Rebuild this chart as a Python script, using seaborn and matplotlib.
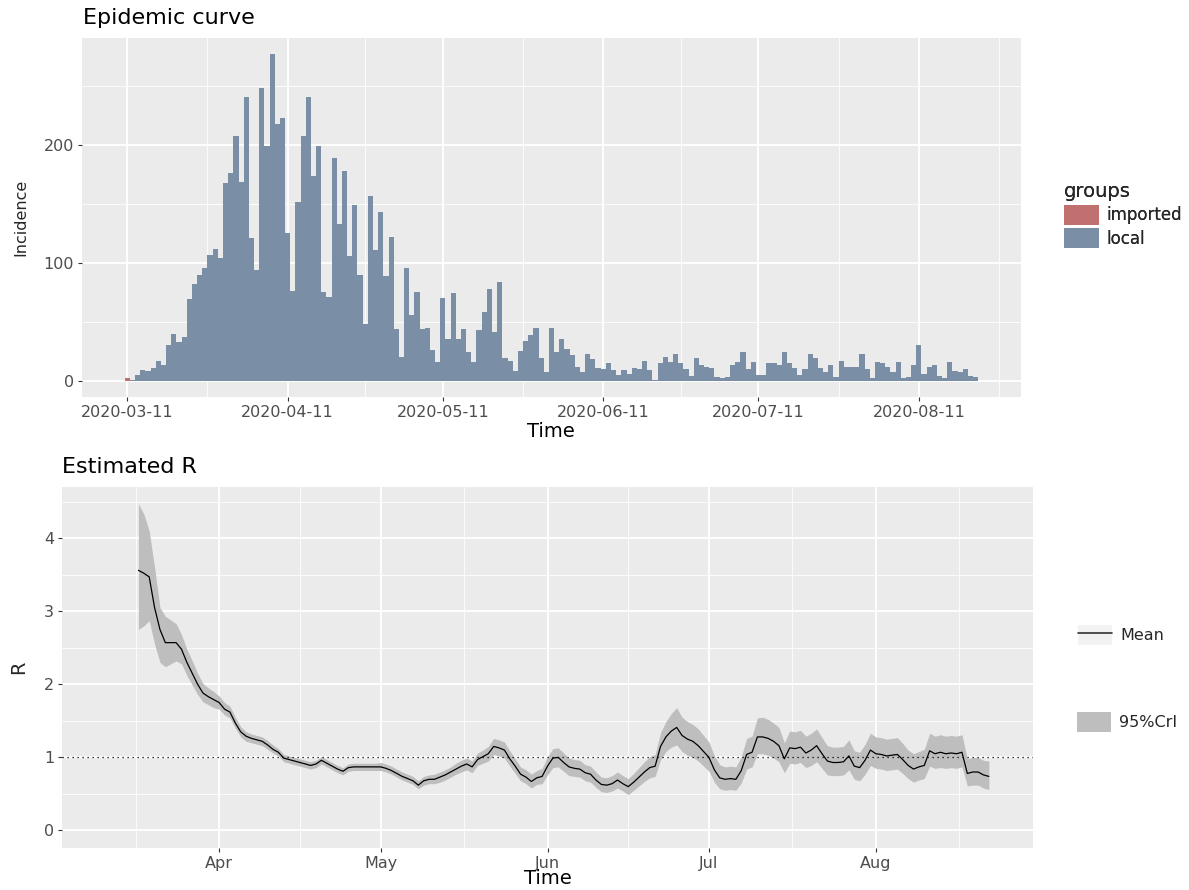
import matplotlib
matplotlib.use("Agg")
import matplotlib.pyplot as plt
import matplotlib.dates as mdates
from matplotlib.lines import Line2D
from matplotlib.patches import Patch
from matplotlib.ticker import FixedLocator
import numpy as np
import pandas as pd
import seaborn as sns

# incidence, one value per day starting 2020-03-11
incidence_start = "2020-03-11"
local_cases = [
    0, 1, 5, 9, 8, 11, 17, 13, 30, 40, 33, 37, 69, 82, 90, 96, 107, 112, 104, 168,
    176, 208, 169, 241, 121, 94, 248, 199, 277, 218, 223, 125, 76, 152, 208, 241, 174, 199, 75, 71,
    189, 133, 178, 106, 149, 90, 48, 157, 111, 143, 89, 122, 44, 20, 96, 56, 75, 44, 45, 26,
    16,
    70, 35, 74, 35, 44, 24, 16, 43, 58, 78, 41, 84, 19, 17, 8, 25, 34, 39, 45, 19,
    7, 45, 24, 35, 27, 22, 12, 7, 23, 18, 11, 10, 15, 9, 5, 9, 6, 11, 10, 17,
    9, 1, 15, 20, 16, 23, 15, 10, 4, 19, 13, 12, 11, 3, 2, 3, 13, 16, 24, 10,
    16, 5, 5, 15, 15, 13, 24, 15, 11, 5, 10, 23, 19, 11, 7, 13, 3, 17, 12, 12,
    12, 23, 10, 2, 16, 15, 12, 7, 16, 2, 3, 13, 30, 6, 12, 13, 4, 2, 16, 8,
    7, 10, 4, 3,
]
imported_dates = ["2020-03-11"]
imported_cases = [2]

group_names = ["imported", "local"]
group_colors = ["#C0706F", "#7A8FA6"]

# estimated R (mean and 95% CrI), one value per day starting 2020-03-17
r_start = "2020-03-17"
r_mean = [
    3.56, 3.52, 3.47, 3.05, 2.75, 2.57, 2.57, 2.57, 2.48, 2.30, 2.15, 2.00, 1.88, 1.83, 1.79,
    1.75, 1.66, 1.62, 1.47, 1.35, 1.29, 1.26, 1.24, 1.22, 1.17, 1.11, 1.07, 0.99, 0.97, 0.95,
    0.93, 0.91, 0.89, 0.91, 0.96, 0.92, 0.88, 0.84, 0.81, 0.86, 0.87, 0.87, 0.87, 0.87, 0.87,
    0.87, 0.85, 0.82, 0.78, 0.74, 0.71, 0.68, 0.62, 0.68, 0.70, 0.70, 0.73, 0.76, 0.80, 0.84,
    0.88, 0.91, 0.87, 0.97, 1.01, 1.05, 1.15, 1.13, 1.10, 0.98, 0.88, 0.77, 0.73, 0.67, 0.72, 0.74,
    0.88, 0.99, 1.00, 0.93, 0.87, 0.85, 0.84, 0.79, 0.77, 0.69, 0.63, 0.62, 0.64, 0.69, 0.64,
    0.60, 0.66, 0.73, 0.80, 0.86, 0.88, 1.15, 1.28, 1.36, 1.41, 1.30, 1.25, 1.22, 1.16, 1.08,
    1.00, 0.83, 0.72, 0.70, 0.71, 0.70, 0.82, 1.04, 1.07, 1.28, 1.28, 1.26, 1.22, 1.16, 0.98,
    1.13, 1.12, 1.14, 1.06, 1.10, 1.16, 1.05, 0.95, 0.93, 0.93, 0.94, 1.02, 0.88, 0.86, 0.96, 1.10,
    1.05, 1.04, 1.02, 1.03, 1.04, 0.97, 0.89, 0.84, 0.87, 0.89, 1.09, 1.05, 1.07, 1.05, 1.06,
    1.05, 1.07, 0.78, 0.80, 0.80, 0.76, 0.74,
]
r_lower = [
    2.75, 2.80, 2.87, 2.55, 2.30, 2.24, 2.28, 2.32, 2.28, 2.12, 1.99, 1.86, 1.76, 1.72, 1.68,
    1.66, 1.58, 1.54, 1.40, 1.28, 1.22, 1.20, 1.18, 1.16, 1.11, 1.06, 1.02, 0.94, 0.92, 0.90,
    0.88, 0.86, 0.84, 0.86, 0.91, 0.87, 0.83, 0.79, 0.76, 0.81, 0.82, 0.82, 0.82, 0.82, 0.82,
    0.82, 0.80, 0.77, 0.73, 0.69, 0.66, 0.63, 0.57, 0.62, 0.64, 0.64, 0.66, 0.69, 0.73, 0.77,
    0.80, 0.83, 0.79, 0.89, 0.92, 0.95, 1.04, 1.02, 0.99, 0.88, 0.78, 0.68, 0.64, 0.58, 0.63, 0.64,
    0.76, 0.86, 0.87, 0.81, 0.75, 0.74, 0.73, 0.68, 0.66, 0.59, 0.53, 0.52, 0.54, 0.58, 0.54,
    0.49, 0.55, 0.61, 0.67, 0.72, 0.74, 0.97, 1.08, 1.14, 1.17, 1.08, 1.03, 1.00, 0.95, 0.88,
    0.81, 0.66, 0.57, 0.55, 0.56, 0.55, 0.65, 0.84, 0.87, 1.05, 1.05, 1.03, 0.99, 0.94, 0.79,
    0.92, 0.91, 0.93, 0.86, 0.89, 0.94, 0.85, 0.76, 0.75, 0.75, 0.76, 0.83, 0.70, 0.68, 0.77, 0.89,
    0.85, 0.84, 0.82, 0.83, 0.84, 0.78, 0.71, 0.66, 0.69, 0.71, 0.88, 0.85, 0.86, 0.85, 0.86,
    0.85, 0.87, 0.61, 0.62, 0.62, 0.58, 0.56,
]
r_upper = [
    4.47, 4.33, 4.10, 3.60, 3.05, 2.93, 2.88, 2.83, 2.68, 2.48, 2.32, 2.15, 2.01, 1.95, 1.90,
    1.84, 1.75, 1.70, 1.55, 1.42, 1.35, 1.32, 1.30, 1.28, 1.23, 1.17, 1.12, 1.04, 1.02, 1.00,
    0.98, 0.96, 0.94, 0.96, 1.01, 0.97, 0.93, 0.89, 0.86, 0.91, 0.92, 0.92, 0.92, 0.92, 0.92,
    0.93, 0.91, 0.88, 0.84, 0.80, 0.77, 0.74, 0.68, 0.74, 0.76, 0.77, 0.80, 0.83, 0.87, 0.92,
    0.96, 0.99, 0.95, 1.06, 1.10, 1.15, 1.26, 1.24, 1.21, 1.09, 0.98, 0.87, 0.83, 0.77, 0.82, 0.85,
    1.01, 1.12, 1.13, 1.06, 0.99, 0.97, 0.96, 0.90, 0.88, 0.80, 0.73, 0.72, 0.75, 0.80, 0.75,
    0.71, 0.78, 0.86, 0.94, 1.01, 1.04, 1.34, 1.49, 1.60, 1.68, 1.55, 1.49, 1.45, 1.39, 1.30,
    1.21, 1.02, 0.90, 0.87, 0.88, 0.87, 1.01, 1.26, 1.29, 1.54, 1.55, 1.52, 1.47, 1.41, 1.20,
    1.36, 1.35, 1.37, 1.29, 1.33, 1.39, 1.27, 1.16, 1.14, 1.14, 1.15, 1.24, 1.09, 1.07, 1.18, 1.33,
    1.28, 1.27, 1.25, 1.26, 1.27, 1.19, 1.10, 1.05, 1.08, 1.11, 1.33, 1.29, 1.31, 1.29, 1.30,
    1.29, 1.31, 0.98, 1.00, 1.00, 0.96, 0.95,
]

top_ticks = ["2020-03-11", "2020-04-11", "2020-05-11", "2020-06-11", "2020-07-11", "2020-08-11"]
bottom_ticks = ["2020-04-01", "2020-05-01", "2020-06-01", "2020-07-01", "2020-08-01"]
bottom_tick_labels = ["Apr", "May", "Jun", "Jul", "Aug"]

BG = "#EBEBEB"
TICK_TXT = "#4D4D4D"

sns.set_theme(style="darkgrid", rc={
    "axes.facecolor": BG,
    "grid.color": "white",
    "axes.edgecolor": BG,
})
plt.rcParams["font.family"] = ["DejaVu Sans"]

fig = plt.figure(figsize=(11.89, 8.90), dpi=100)
W, H = 1189, 890


def px_axes(left, top, right, bottom):
    return fig.add_axes([left / W, 1 - bottom / H, (right - left) / W, (bottom - top) / H])


def style_axes(ax, major, minor):
    ax.xaxis.set_major_locator(FixedLocator(major))
    ax.xaxis.set_minor_locator(FixedLocator(minor))
    ax.grid(which="major", color="white", linewidth=1.3)
    ax.grid(which="minor", color="white", linewidth=0.6)
    ax.tick_params(which="major", length=3.2, width=0.8, color="#333333",
                   labelcolor=TICK_TXT, labelsize=11.5, pad=2.5, bottom=True, left=True)
    ax.tick_params(which="minor", length=0)
    for s in ax.spines.values():
        s.set_visible(False)
    ax.set_axisbelow(True)


# ---- top panel: epidemic curve ----
local_dates = pd.date_range(incidence_start, periods=len(local_cases), freq="D")
inc = pd.concat([
    pd.DataFrame({"date": pd.to_datetime(imported_dates), "cases": imported_cases, "groups": "imported"}),
    pd.DataFrame({"date": local_dates, "cases": local_cases, "groups": "local"}),
], ignore_index=True)

ax1 = px_axes(82, 38, 1021, 397)
sns.histplot(data=inc, x="date", weights="cases", hue="groups", hue_order=group_names,
             palette=group_colors, multiple="stack", discrete=True, linewidth=0,
             alpha=1, legend=False, ax=ax1)
d0 = mdates.date2num(local_dates[0])
d1 = mdates.date2num(local_dates[-1])
ax1.set_xlim(d0 - 8.75, d1 + 8.75)
ax1.set_ylim(-13.85, 290.85)
top_major = [mdates.date2num(pd.Timestamp(t)) for t in top_ticks]
top_minor = [(a + b) / 2 for a, b in zip(top_major[:-1], top_major[1:])]
top_minor.append(top_major[-1] + 15.5)
style_axes(ax1, top_major, top_minor)
ax1.set_xticklabels(top_ticks)
ax1.yaxis.set_major_locator(FixedLocator([0, 100, 200]))
ax1.yaxis.set_minor_locator(FixedLocator([50, 150, 250]))
ax1.set_xlabel("")
ax1.set_ylabel("")

fig.text(83 / W, 1 - 18 / H, "Epidemic curve", fontsize=16, ha="left", va="center", color="black")
fig.text(551 / W, 1 - 432 / H, "Time", fontsize=14, ha="center", va="center", color="black")
fig.text(21 / W, 1 - 217 / H, "Incidence", fontsize=11.5, rotation=90, ha="center", va="center")

group_handles = [Patch(facecolor=c, edgecolor="none") for c in group_colors]
leg1 = fig.legend(group_handles, group_names, title="groups", loc="upper left",
                  bbox_to_anchor=(1056 / W, 1 - 174 / H), frameon=False, fontsize=12,
                  title_fontsize=14, handlelength=2.05, handleheight=1.45,
                  handletextpad=0.5, labelspacing=0.22, borderpad=0, alignment="left")

# ---- bottom panel: estimated R ----
r_dates = pd.date_range(r_start, periods=len(r_mean), freq="D")
rdf = pd.DataFrame({"date": r_dates, "mean": r_mean, "lower": r_lower, "upper": r_upper})

ax2 = px_axes(62, 487, 1033, 848)
ax2.fill_between(rdf["date"], rdf["lower"], rdf["upper"], color="#BEBEBE", linewidth=0, zorder=2)
sns.lineplot(data=rdf, x="date", y="mean", color="black", linewidth=0.9, ax=ax2, zorder=3)
ax2.axhline(1, color="black", linestyle=(0, (1, 3)), linewidth=0.9, zorder=3)
ax2.set_xlim(d0 - 8.2, d1 + 8.2)
ax2.set_ylim(-0.24, 4.70)
bot_major = [mdates.date2num(pd.Timestamp(t)) for t in bottom_ticks]
bot_minor = [bot_major[0] - 15.5] + [(a + b) / 2 for a, b in zip(bot_major[:-1], bot_major[1:])]
bot_minor.append(bot_major[-1] + 15.5)
style_axes(ax2, bot_major, bot_minor)
ax2.set_xticklabels(bottom_tick_labels)
ax2.yaxis.set_major_locator(FixedLocator([0, 1, 2, 3, 4]))
ax2.yaxis.set_minor_locator(FixedLocator([0.5, 1.5, 2.5, 3.5, 4.5]))
ax2.set_xlabel("")
ax2.set_ylabel("")

fig.text(62 / W, 1 - 467 / H, "Estimated R", fontsize=16, ha="left", va="center", color="black")
fig.text(548 / W, 1 - 879 / H, "Time", fontsize=14, ha="center", va="center", color="black")
fig.text(19 / W, 1 - 667 / H, "R", fontsize=14, rotation=90, ha="center", va="center")

mean_handle = (Patch(facecolor="#F2F2F2", edgecolor="none"), Line2D([], [], color="#333333", linewidth=1.2))
fig.legend([mean_handle], ["Mean"], loc="center left", bbox_to_anchor=(1070 / W, 1 - 635 / H),
           frameon=False, fontsize=11.5, handlelength=2.1, handleheight=1.55,
           handletextpad=0.55, borderpad=0)
fig.add_artist(leg1)
fig.legend([Patch(facecolor="#BEBEBE", edgecolor="none")], ["95%CrI"], loc="center left",
           bbox_to_anchor=(1069 / W, 1 - 722 / H), frameon=False, fontsize=11.5,
           handlelength=2.1, handleheight=1.55, handletextpad=0.55, borderpad=0)

fig.savefig("out.png", dpi=100)
